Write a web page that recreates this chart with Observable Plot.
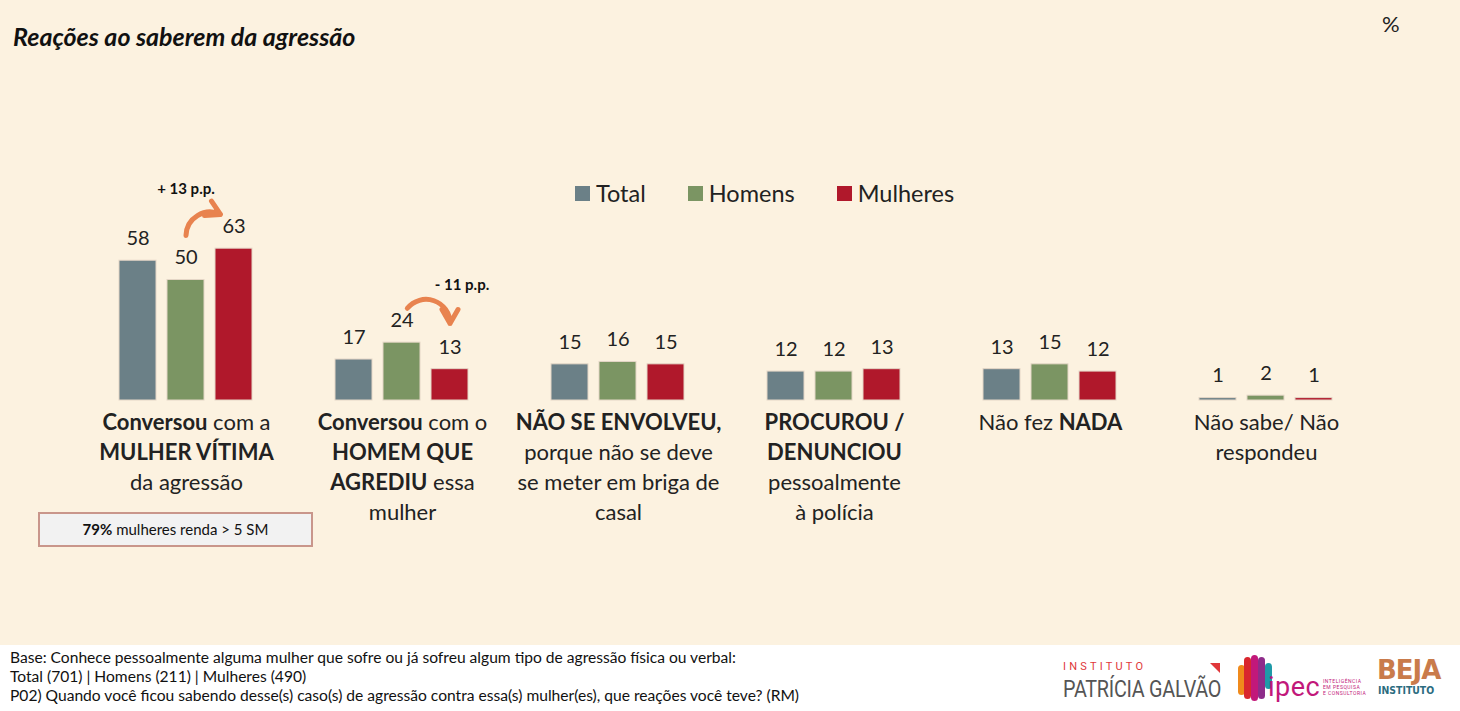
<!DOCTYPE html>
<html><head><meta charset="utf-8">
<script src="https://cdn.jsdelivr.net/npm/d3@7"></script>
<script src="https://cdn.jsdelivr.net/npm/@observablehq/plot@0.6"></script>
<style>
html,body{margin:0;padding:0;}
body{width:1460px;height:711px;background:#FCF2E0;font-family:Lato,sans-serif;overflow:hidden;position:relative;color:#222;}
#title{position:absolute;left:13px;top:21px;font-size:25px;font-weight:bold;font-style:italic;color:#111;white-space:nowrap;}
#pct{position:absolute;left:1382px;top:10px;font-size:22px;color:#222;}
#chart{position:absolute;left:0;top:0;}
#legend{position:absolute;left:575px;top:179px;}
#legend .lg-swatches{font-family:Lato,sans-serif!important;font-size:23.5px!important;color:#222!important;margin:0!important;min-height:0!important;}
#legend .lg-swatch{margin-right:42px!important;}
#legend .lg-swatch svg{margin-right:6px!important;}
#box{position:absolute;left:38px;top:512px;width:275px;height:35px;box-sizing:border-box;background:#F2F2F2;border:2px solid #C9968B;font-size:15px;color:#111;text-align:center;line-height:31px;}
#footer{position:absolute;left:0;top:645px;width:1460px;height:66px;background:#fff;}
#notes{position:absolute;left:10px;top:3px;font-size:15.6px;line-height:19px;color:#111;white-space:nowrap;}
.pg1{position:absolute;left:1063px;top:15px;font-family:Roboto,sans-serif;font-size:11px;letter-spacing:3.2px;color:#E0373A;}
.pg2{position:absolute;left:1063px;top:31px;font-family:Roboto,sans-serif;font-size:23px;color:#555;transform:scaleX(0.86);transform-origin:left top;white-space:nowrap;letter-spacing:-0.3px;}
.tri{position:absolute;left:1210px;top:18px;width:0;height:0;border-top:10px solid #E0373A;border-left:10px solid transparent;}
.ip{position:absolute;top:12px;width:7px;height:42px;border-radius:4px;}
.ipec{position:absolute;left:1268px;top:26px;font-family:Roboto,sans-serif;font-size:27px;color:#C2187A;letter-spacing:0.5px;}
.ipt{position:absolute;left:1323px;top:33px;font-family:Roboto,sans-serif;font-size:5px;line-height:6px;color:#C2187A;letter-spacing:0.5px;}
.beja{position:absolute;left:1377px;top:10px;font-family:"DejaVu Sans",sans-serif;font-weight:bold;font-size:26px;color:#C97B4B;letter-spacing:-1px;}
.bejai{position:absolute;left:1378px;top:39px;font-family:"DejaVu Sans",sans-serif;font-weight:bold;font-size:11px;color:#2B6C7F;transform:scaleX(0.85);transform-origin:left top;}
</style>
</head><body>
<div id="title">Reações ao saberem da agressão</div>
<div id="pct">%</div>
<div id="chart"></div>
<div id="legend"></div>
<div id="box"><b>79%</b> mulheres renda &gt; 5 SM</div>
<div id="footer">
  <div id="notes">Base: Conhece pessoalmente alguma mulher que sofre ou já sofreu algum tipo de agressão física ou verbal:<br>Total (701) | Homens (211) | Mulheres (490)<br>P02) Quando você ficou sabendo desse(s) caso(s) de agressão contra essa(s) mulher(es), que reações você teve? (RM)</div>
  <div class="pg1">INSTITUTO</div>
  <div class="tri"></div>
  <div class="pg2">PATRÍCIA GALVÃO</div>
  <div class="ip" style="left:1238px;background:#F08A1C;top:20px;height:30px;"></div>
  <div class="ip" style="left:1244px;background:#D9262E;"></div>
  <div class="ip" style="left:1251px;background:#C2187A;top:10px;height:46px;"></div>
  <div class="ip" style="left:1258px;background:#8E2C8A;"></div>
  <div class="ip" style="left:1265px;background:#1F9AA8;top:18px;height:26px;"></div>
  <div class="ipec">ipec</div>
  <div class="ipt">INTELIGÊNCIA<br>EM PESQUISA<br>E CONSULTORIA</div>
  <div class="beja">BEJA</div>
  <div class="bejai">INSTITUTO</div>
</div>
<script>
// ---- data ----
const categories = ["Conversou com a mulher vítima", "Conversou com o homem que agrediu", "Não se envolveu", "Procurou / denunciou à polícia", "Não fez nada", "Não sabe/ Não respondeu"];
const categoryLabels = [
  "**Conversou** com a\n**MULHER VÍTIMA**\nda agressão",
  "**Conversou** com o\n**HOMEM QUE**\n**AGREDIU** essa\nmulher",
  "**NÃO SE ENVOLVEU,**\nporque não se deve\nse meter em briga de\ncasal",
  "**PROCUROU /**\n**DENUNCIOU**\npessoalmente\nà polícia",
  "Não fez **NADA**",
  "Não sabe/ Não\nrespondeu"
];
const series = ["Total", "Homens", "Mulheres"];
const totalValues = [58, 17, 15, 12, 13, 1];
const homensValues = [50, 24, 16, 12, 15, 2];
const mulheresValues = [63, 13, 15, 13, 12, 1];
const seriesColors = ["#6B8087", "#7B9563", "#B0182B"];
const annotations = [
  {category: categories[0], from: "Homens", to: "Mulheres", label: "+ 13 p.p."},
  {category: categories[1], from: "Homens", to: "Mulheres", label: "- 11 p.p."}
];

const valuesBySeries = {Total: totalValues, Homens: homensValues, Mulheres: mulheresValues};
const data = [];
categories.forEach((c, i) => series.forEach(s => data.push({category: c, series: s, value: valuesBySeries[s][i]})));
const val = (c, s) => valuesBySeries[s][categories.indexOf(c)];

const arrowStyle = {bend: 90, stroke: "#E8834F", strokeWidth: 5, headLength: 9};

const chart = Plot.plot({
  width: 1460, height: 540,
  marginLeft: 78, marginRight: 86, marginTop: 159, marginBottom: 140,
  style: {background: "transparent", fontFamily: "Lato, sans-serif", color: "#222", overflow: "visible"},
  fx: {domain: categories, padding: 0, axis: null, label: null},
  x: {domain: series, paddingInner: 0.22, paddingOuter: 0.86, axis: null, label: null},
  y: {domain: [0, 100], range: [400, 159], axis: null},
  color: {domain: series, range: seriesColors},
  marks: [
    Plot.barY(data, {fx: "category", x: "series", y: "value", fill: "series", stroke: "#E4D6C6", strokeWidth: 1}),
    Plot.text(data, {fx: "category", x: "series", y: "value", text: d => String(d.value), dy: -22, fontSize: 20, fill: "#222"}),
    Plot.text(categories, {fx: d => d, text: (d, i) => categoryLabels[i], frameAnchor: "bottom", lineAnchor: "top", dy: 8, fontSize: 22, lineHeight: 30 / 22, fill: "#222"}),
    // +13 p.p. annotation
    Plot.arrow([annotations[0]], {fx: "category", x1: "from", x2: "to",
      y1: d => val(d.category, d.from) + 18.5, y2: d => val(d.category, d.from) + 18,
      insetEnd: 26, ...arrowStyle}),
    Plot.text([annotations[0]], {fx: "category", x: "from", y: d => val(d.category, d.to) + 24.5,
      text: "label", fontSize: 15, fontWeight: "bold", fill: "#111"}),
    // -11 p.p. annotation
    Plot.arrow([annotations[1]], {fx: "category", x1: "from", x2: "to",
      y1: d => val(d.category, d.to) + 19, y2: d => val(d.category, d.to) + 19,
      insetStart: 16, ...arrowStyle}),
    Plot.text([annotations[1]], {fx: "category", x: "to", y: d => val(d.category, d.from) + 24, dx: 12,
      text: "label", fontSize: 15, fontWeight: "bold", fill: "#111"})
  ]
});

// mixed-weight category labels
d3.select(chart).selectAll("text, tspan").each(function () {
  if (this.childElementCount === 0 && this.textContent.includes("**")) {
    const parts = this.textContent.split("**");
    this.textContent = "";
    this.setAttribute("style", "white-space:pre");
    parts.forEach((p, i) => {
      if (!p) return;
      const t = document.createElementNS("http://www.w3.org/2000/svg", "tspan");
      t.textContent = p;
      if (i % 2) t.setAttribute("font-weight", "bold");
      this.appendChild(t);
    });
  }
});
document.getElementById("chart").appendChild(chart);
document.getElementById("legend").appendChild(chart.legend("color", {className: "lg", swatchSize: 15}));
</script>
</body></html>
